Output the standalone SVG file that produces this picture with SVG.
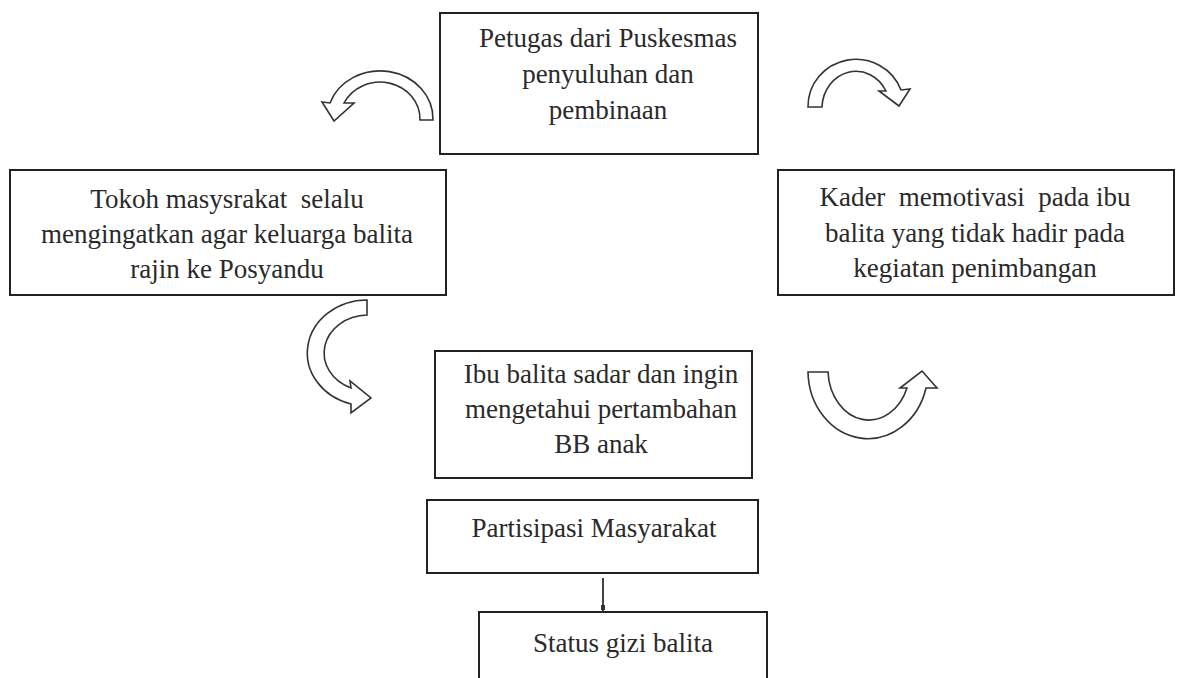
<svg xmlns="http://www.w3.org/2000/svg" width="1178" height="678" viewBox="0 0 1178 678">
<style>
.box{fill:#fff;stroke:#222;stroke-width:2}
.arr{fill:#fff;stroke:#333;stroke-width:1.6;stroke-linejoin:miter}
.t{font-family:'Liberation Serif','Times New Roman',serif;font-size:27px;fill:#2a2a2a;text-anchor:middle}
.con{stroke:#444;stroke-width:2;fill:none}
</style>
<rect width="1178" height="678" fill="#fff"/>
<g id="node-petugas">
<rect class="box" x="440" y="13" width="318" height="141"/>
<text class="t" font-family="Liberation Serif, serif" x="608" y="47">Petugas dari Puskesmas</text>
<text class="t" font-family="Liberation Serif, serif" x="608" y="83">penyuluhan dan</text>
<text class="t" font-family="Liberation Serif, serif" x="608" y="119">pembinaan</text>
</g>
<g id="node-tokoh">
<rect class="box" x="10" y="170" width="436" height="125"/>
<text class="t" font-family="Liberation Serif, serif" x="227" y="208" xml:space="preserve">Tokoh masysrakat  selalu</text>
<text class="t" font-family="Liberation Serif, serif" x="227" y="243">mengingatkan agar keluarga balita</text>
<text class="t" font-family="Liberation Serif, serif" x="227" y="278">rajin ke Posyandu</text>
</g>
<g id="node-kader">
<rect class="box" x="778" y="170" width="396" height="125"/>
<text class="t" font-family="Liberation Serif, serif" x="975" y="206" xml:space="preserve">Kader  memotivasi  pada ibu</text>
<text class="t" font-family="Liberation Serif, serif" x="975" y="242">balita yang tidak hadir pada</text>
<text class="t" font-family="Liberation Serif, serif" x="975" y="277">kegiatan penimbangan</text>
</g>
<g id="node-ibu">
<rect class="box" x="435" y="351" width="317" height="127"/>
<text class="t" font-family="Liberation Serif, serif" x="601" y="383">Ibu balita sadar dan ingin</text>
<text class="t" font-family="Liberation Serif, serif" x="601" y="418">mengetahui pertambahan</text>
<text class="t" font-family="Liberation Serif, serif" x="601" y="453">BB anak</text>
</g>
<g id="node-partisipasi">
<rect class="box" x="427" y="500" width="331" height="73"/>
<text class="t" font-family="Liberation Serif, serif" x="594" y="537">Partisipasi Masyarakat</text>
</g>
<g id="node-status">
<rect class="box" x="479" y="612" width="288" height="80"/>
<text class="t" font-family="Liberation Serif, serif" x="623" y="652">Status gizi balita</text>
</g>
<g id="connectors">
<path class="arr" d="M433,120 A53,48 0 0 0 330,103 L322,102 L334,121 L354,103 L344,103 A40,37 0 0 1 420,120 Z"/>
<path class="arr" d="M808,107 A48,47 0 0 1 901,90 L910,89 L899,106 L879,91 L886,91 A34,37 0 0 0 822,107 Z"/>
<path class="arr" d="M367,300 A60,53 0 0 0 351,404 L351,413 L371,398 L350,381 L351,388 A44,38 0 0 1 367,315 Z"/>
<path class="arr" d="M808,372 A60,68 0 0 0 926,388 L937,388 L922,371 L900,388 L907,388 A41,51 0 0 1 828,372 Z"/>
<line class="con" x1="603" y1="578" x2="603" y2="611"/>
<rect x="601" y="605" width="4" height="5" fill="#333"/>
</g>
</svg>
